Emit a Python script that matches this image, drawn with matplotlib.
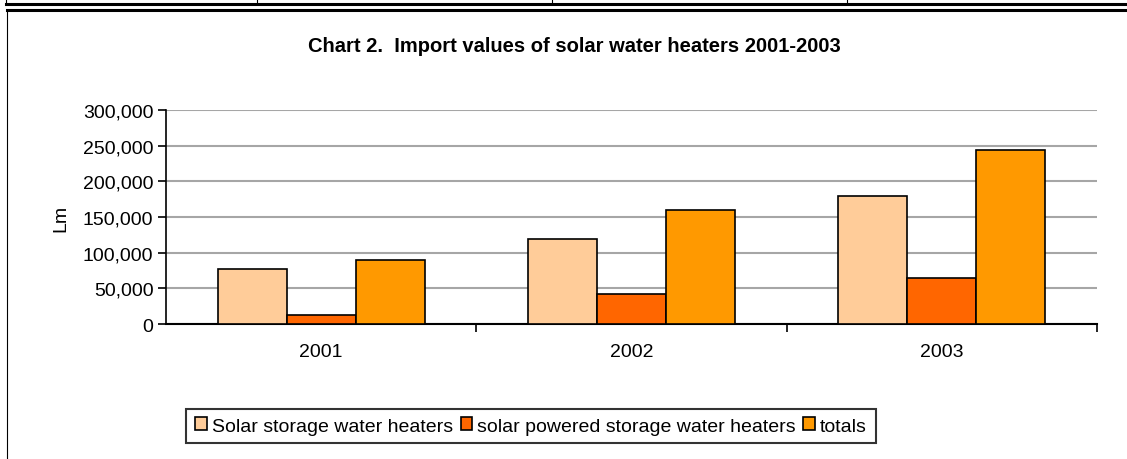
import numpy as np
import matplotlib
matplotlib.use("Agg")
import matplotlib.pyplot as plt
from matplotlib.lines import Line2D

plt.rcParams["font.family"] = ["Liberation Sans", "DejaVu Sans"]

years = ["2001", "2002", "2003"]
storage = [77000, 119000, 179500]
powered = [13000, 41600, 64500]
totals = [89700, 160000, 244000]
series_names = ["Solar storage water heaters",
                "solar powered storage water heaters",
                "totals"]
colors = ["#FFCC99", "#FF6600", "#FF9900"]

fig = plt.figure(figsize=(11.27, 4.6), dpi=100)

# table remnants and chart frame
W, H = 1127, 460
def fline(x0, y0, x1, y1, lw):
    fig.add_artist(Line2D([x0 / W, x1 / W], [1 - y0 / H, 1 - y1 / H],
                          color="black", lw=lw, transform=fig.transFigure))

fline(6, 5, W, 5, 2.2)
for x in [6, 257, 552, 847]:
    fline(x, 0, x, 5, 0.8)
fline(7, 11, W, 11, 2.2)
fline(7, 11, 7, H, 0.8)

ax = fig.add_axes([166 / W, 1 - 325 / H, (1097 - 166) / W, (325 - 111) / H])

x = np.arange(len(years))
bw = 1 / 4.5
for i, (vals, c, name) in enumerate(zip([storage, powered, totals], colors, series_names)):
    ax.bar(x + (i - 1) * bw, vals, bw, color=c, edgecolor="black",
           linewidth=1.2, label=name, zorder=3)

ax.set_xlim(-0.5, 2.5)
ax.set_ylim(0, 300000)
ax.set_yticks(np.arange(0, 300001, 50000))
ax.set_yticklabels(["{:,}".format(v) for v in range(0, 300001, 50000)], fontsize=14)
ax.yaxis.grid(True, color="#A6A6A6", lw=1.5, zorder=0)
ax.set_axisbelow(True)

ax.set_xticks(x)
ax.set_xticklabels(years, fontsize=14)
ax.tick_params(axis="x", length=0, pad=14)
ax.set_xticks([0.5, 1.5, 2.5], minor=True)
ax.tick_params(axis="x", which="minor", length=6, width=1.2, direction="out")
ax.tick_params(axis="y", length=6, width=1.2, direction="out", pad=3)

for s in ["top", "right"]:
    ax.spines[s].set_visible(False)
ax.spines["left"].set_linewidth(1.2)
ax.spines["bottom"].set_linewidth(1.5)

ax.set_ylabel("Lm", fontsize=14, labelpad=10)

fig.text(574 / W, 1 - 46 / H, "Chart 2.  Import values of solar water heaters 2001-2003",
         ha="center", va="center", fontsize=14.5, fontweight="bold")

leg = fig.legend(loc="center", bbox_to_anchor=(531 / W, 1 - 427 / H), ncol=3,
                 fontsize=14, frameon=True, fancybox=False, edgecolor="black",
                 handlelength=0.6, handleheight=0.6, handletextpad=0.25,
                 columnspacing=0.4, borderpad=0.45, borderaxespad=0)
leg.get_frame().set_linewidth(1.5)

fig.savefig("out.png", dpi=100)
